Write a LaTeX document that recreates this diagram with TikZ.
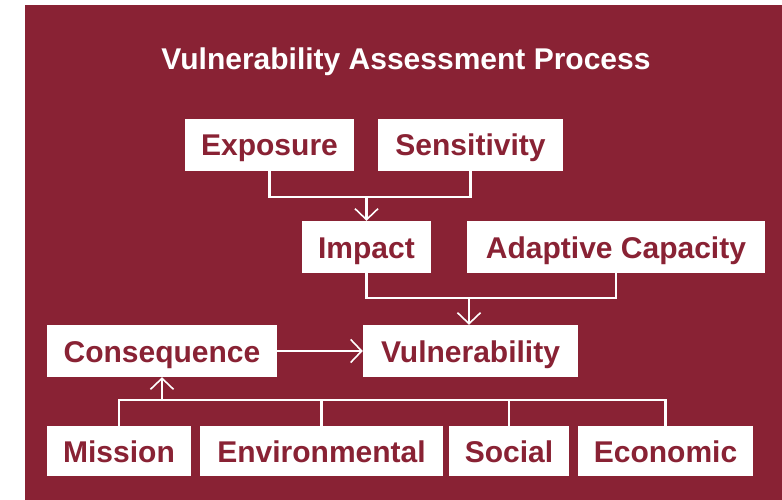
\documentclass[tikz,border=0pt]{standalone}
\usepackage{fontspec}
\setmainfont{Liberation Sans}
\usetikzlibrary{arrows.meta}
\definecolor{maroon}{RGB}{137,34,52}
\begin{document}
\begin{tikzpicture}[x=1pt,y=-1pt,
  box/.style={draw=none,fill=white,text=maroon,inner sep=0pt,minimum height=52pt,
    text height=22pt,text depth=0pt,font=\fontsize{30}{32}\selectfont\bfseries},
  link/.style={draw=white,line width=2.6pt},
  arr/.style={link,-{Straight Barb[length=11pt,width=23pt,line width=1.6pt]}}]
\useasboundingbox (0,0) rectangle (782,500);
\fill[white] (0,0) rectangle (782,500);
\fill[maroon] (25,5) rectangle (782,500);
\node[text=white,font=\fontsize{30}{32}\selectfont\bfseries,anchor=base] (title) at (406,70) {Vulnerability Assessment Process};
\node[box,minimum width=169pt] (exp) at (269.5,145) {Exposure};
\node[box,minimum width=185pt] (sen) at (470.5,145) {Sensitivity};
\node[box,minimum width=129pt] (imp) at (366.5,247) {Impact};
\node[box,minimum width=298pt] (ada) at (616,247) {Adaptive Capacity};
\node[box,minimum width=215pt] (vul) at (470.5,351) {Vulnerability};
\node[box,minimum width=230pt] (con) at (162,351) {Consequence};
\node[box,minimum width=144pt,minimum height=50pt] (mis) at (119,451) {Mission};
\node[box,minimum width=243pt,minimum height=50pt] (env) at (321.5,451) {Environmental};
\node[box,minimum width=120pt,minimum height=50pt] (soc) at (509,451) {Social};
\node[box,minimum width=175pt,minimum height=50pt] (eco) at (665.5,451) {Economic};
\coordinate (j1) at (366.5,197);
\coordinate (j2) at (469,298);
\coordinate (j3) at (162,400);
% Exposure + Sensitivity -> Impact
\draw[link] (exp.south) -- (exp.south |- j1) -| (sen.south);
\draw[arr] (j1) -- (imp.north);
% Impact + Adaptive -> Vulnerability
\draw[link] (imp.south) -- (imp.south |- j2) -| (ada.south);
\draw[arr] (j2) -- (vul.north -| j2);
% Consequence -> Vulnerability
\draw[arr] (con.east) -- (vul.west);
% bottom row -> Consequence
\draw[link] (mis.north) -- (mis.north |- j3) -| (eco.north);
\draw[link] (env.north) -- (env.north |- j3);
\draw[link] (soc.north) -- (soc.north |- j3);
\draw[arr] (j3) -- (con.south);
\end{tikzpicture}
\end{document}
